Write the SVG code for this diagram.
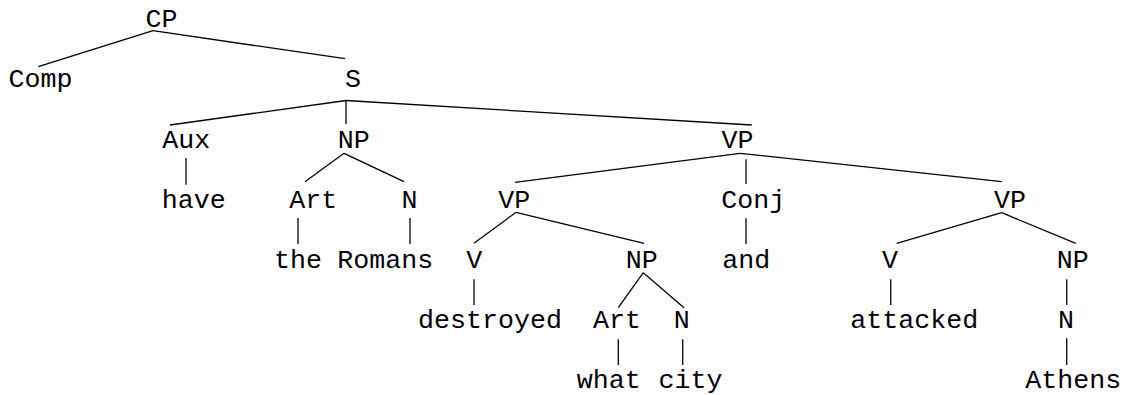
<svg xmlns="http://www.w3.org/2000/svg" width="1125" height="395" viewBox="0 0 1125 395">
<style>
text{font-family:"Liberation Mono","Courier New",monospace;font-size:26.67px;fill:#000;text-anchor:middle}
line{stroke:#000;stroke-width:1.3;stroke-linecap:butt}
</style>
<rect width="1125" height="395" fill="#fff"/>
<g id="connectors">
<line x1="153" y1="30.7" x2="38.3" y2="66.7"/>
<line x1="153" y1="30.7" x2="345" y2="58.7"/>
<line x1="346" y1="100.5" x2="170" y2="125"/>
<line x1="346" y1="100.5" x2="346" y2="124"/>
<line x1="346" y1="100.5" x2="751.7" y2="125"/>
<line x1="186" y1="158" x2="186" y2="184.7"/>
<line x1="344" y1="153.3" x2="305" y2="181.7"/>
<line x1="344" y1="153.3" x2="404" y2="181.7"/>
<line x1="298" y1="218" x2="298" y2="244"/>
<line x1="410" y1="218" x2="410" y2="244"/>
<line x1="740" y1="153.3" x2="515" y2="182.3"/>
<line x1="746" y1="159.3" x2="746" y2="184"/>
<line x1="740" y1="153.3" x2="1001.7" y2="181.7"/>
<line x1="746" y1="218.3" x2="746" y2="244"/>
<line x1="516" y1="212.3" x2="474" y2="243.3"/>
<line x1="516" y1="212.3" x2="644" y2="243.3"/>
<line x1="1001.7" y1="212.7" x2="896.7" y2="243.3"/>
<line x1="1001.7" y1="212.7" x2="1075.7" y2="243.3"/>
<line x1="474" y1="279.3" x2="474" y2="305"/>
<line x1="643.3" y1="272.7" x2="618.3" y2="307.7"/>
<line x1="643.3" y1="272.7" x2="684" y2="307.7"/>
<line x1="890.7" y1="279.3" x2="890.7" y2="305"/>
<line x1="1066.7" y1="279.3" x2="1066.7" y2="305"/>
<line x1="618.3" y1="339.3" x2="618.3" y2="365"/>
<line x1="682.7" y1="339.3" x2="682.7" y2="365"/>
<line x1="1066.7" y1="338.3" x2="1066.7" y2="365"/>
</g>
<g id="n-CP"><text x="161.5" y="27">CP</text></g>
<g id="n-Comp"><text x="40.5" y="87">Comp</text></g>
<g id="n-S"><text x="353" y="87">S</text></g>
<g id="n-Aux"><text x="186.3" y="148">Aux</text></g>
<g id="n-have"><text x="193.8" y="208">have</text></g>
<g id="n-NP1"><text x="353.7" y="148">NP</text></g>
<g id="n-Art1"><text x="313.3" y="208">Art</text></g>
<g id="n-the"><text x="298" y="268">the</text></g>
<g id="n-N1"><text x="409.5" y="208">N</text></g>
<g id="n-Romans"><text x="385.3" y="268">Romans</text></g>
<g id="n-VP0"><text x="737.5" y="148">VP</text></g>
<g id="n-VP1"><text x="514.3" y="208">VP</text></g>
<g id="n-V1"><text x="474.2" y="268">V</text></g>
<g id="n-destroyed"><text x="490" y="328">destroyed</text></g>
<g id="n-NP2"><text x="641.7" y="268">NP</text></g>
<g id="n-Art2"><text x="617" y="328">Art</text></g>
<g id="n-what"><text x="608.8" y="388">what</text></g>
<g id="n-N2"><text x="681.7" y="328">N</text></g>
<g id="n-city"><text x="690.5" y="388">city</text></g>
<g id="n-Conj"><text x="753.3" y="208">Conj</text></g>
<g id="n-and"><text x="746.3" y="268">and</text></g>
<g id="n-VP2"><text x="1010" y="208">VP</text></g>
<g id="n-V2"><text x="890" y="268">V</text></g>
<g id="n-attacked"><text x="914.2" y="328">attacked</text></g>
<g id="n-NP3"><text x="1072.8" y="268">NP</text></g>
<g id="n-N3"><text x="1066" y="328">N</text></g>
<g id="n-Athens"><text x="1073.3" y="388">Athens</text></g>
</svg>
